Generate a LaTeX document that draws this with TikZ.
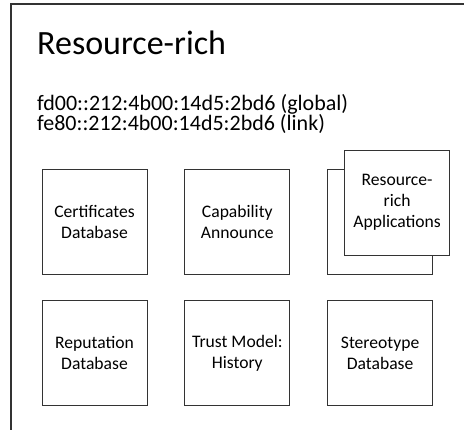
\documentclass[tikz,border=0pt]{standalone}
\usepackage{fontspec}
\setmainfont{Carlito}
\usetikzlibrary{positioning}
\tikzset{
  node distance=37pt,
  block/.style={draw=black!80, line width=0.8pt, minimum width=105pt, minimum height=105pt,
    align=center, inner sep=2pt, font=\fontsize{17.6}{21}\selectfont},
  addr/.style={anchor=base west, inner sep=0pt, font=\fontsize{22}{26}\selectfont},
  frame/.style={draw=black!80, line width=1.1pt},
}

\begin{document}
\begin{tikzpicture}
	\useasboundingbox (0,0) rectangle (464pt,430pt);
	\clip (0,0) rectangle (464pt,430pt);

	% device frame
	\draw[frame] (11pt,-10pt) |- (480pt,426pt);

	% title and addresses
	\node[anchor=base west, inner sep=0pt, font=\fontsize{34}{40}\selectfont] (title) at (37pt,375pt) {Resource-rich};
	\node[addr] (global) at (37pt,319pt) {fd00::212:4b00:14d5:2bd6 (global)};
	\node[addr] (link) at (37pt,299pt) {fe80::212:4b00:14d5:2bd6 (link)};

	% modules
	\node[block] (certs) at (94.5pt,208.5pt) {Certificates\\Database};
	\node[block, right=of certs] (capab) {Capability\\Announce};
	\node[block, right=of capab] (apps) {};
	\node[block, fill=white] (appsfront) at ([shift={(17pt,19pt)}]apps.center) {Resource-\\rich\\Applications};
	\node[block, below=26pt of certs] (reput) {Reputation\\Database};
	\node[block, right=of reput] (trust) {Trust Model:\\History};
	\node[block, right=of trust] (stereo) {Stereotype\\Database};

\end{tikzpicture}
\end{document}
